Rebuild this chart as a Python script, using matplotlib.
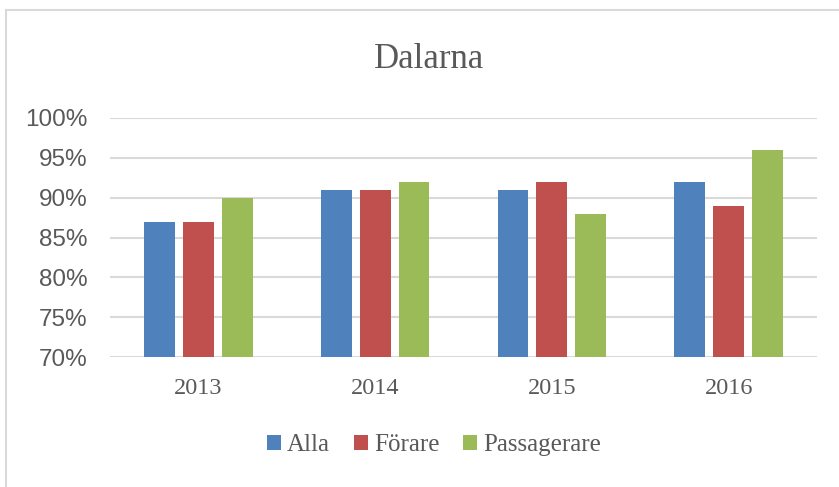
import matplotlib.pyplot as plt
from matplotlib.lines import Line2D
from matplotlib.ticker import FuncFormatter
import numpy as np

years = ["2013", "2014", "2015", "2016"]
series = ["Alla", "Förare", "Passagerare"]
alla = [87, 91, 91, 92]
forare = [87, 91, 92, 89]
passagerare = [90, 92, 88, 96]
colors = ["#4F81BD", "#C0504D", "#9BBB59"]

text_c = "#595959"
grid_c = "#D9D9D9"

fig = plt.figure(figsize=(8.39, 4.87), dpi=100)
ax = fig.add_axes([110 / 839, 1 - 357 / 487, 707 / 839, 239 / 487])

x = np.arange(len(years))
w = 0.175
step = 0.22
for i, (vals, name) in enumerate(zip([alla, forare, passagerare], series)):
    ax.bar(x + (i - 1) * step, np.array(vals) - 70, w, bottom=70,
           color=colors[i], label=name, zorder=3)

ax.set_xlim(-0.5, len(years) - 0.5)
ax.set_ylim(70, 100)
ax.set_yticks(np.arange(70, 101, 5))
ax.yaxis.set_major_formatter(FuncFormatter(lambda v, p: f"{v:.0f}%"))
ax.grid(axis="y", color=grid_c, lw=1.5, zorder=0)
ax.set_xticks(x)
ax.set_xticklabels(years, fontfamily="Liberation Serif", fontsize=17.5, color=text_c)
for s in ax.spines.values():
    s.set_visible(False)
ax.tick_params(axis="both", length=0)
ax.tick_params(axis="x", pad=15)
ax.tick_params(axis="y", pad=16, labelsize=17.5, labelcolor=text_c)
for t in ax.get_yticklabels():
    t.set_fontfamily("Liberation Sans")

fig.text(429 / 839, 1 - 60 / 487, "Dalarna", ha="center", va="center",
         fontsize=25, color=text_c, fontfamily="Liberation Serif")

leg = fig.legend(loc="center", bbox_to_anchor=(434 / 839, 1 - 445 / 487),
                 ncol=3, frameon=False, handlelength=0.55, handleheight=0.55,
                 handletextpad=0.25, columnspacing=0.95,
                 prop={"family": "Liberation Serif", "size": 18})
for t in leg.get_texts():
    t.set_color(text_c)

# chart frame
fig.add_artist(Line2D([6 / 839, 6 / 839], [0, 1 - 10 / 487], color="#D9D9D9",
                      lw=1.5, transform=fig.transFigure))
fig.add_artist(Line2D([6 / 839, 1], [1 - 10 / 487, 1 - 10 / 487], color="#D9D9D9",
                      lw=1.5, transform=fig.transFigure))

fig.savefig("out.png", dpi=100)
